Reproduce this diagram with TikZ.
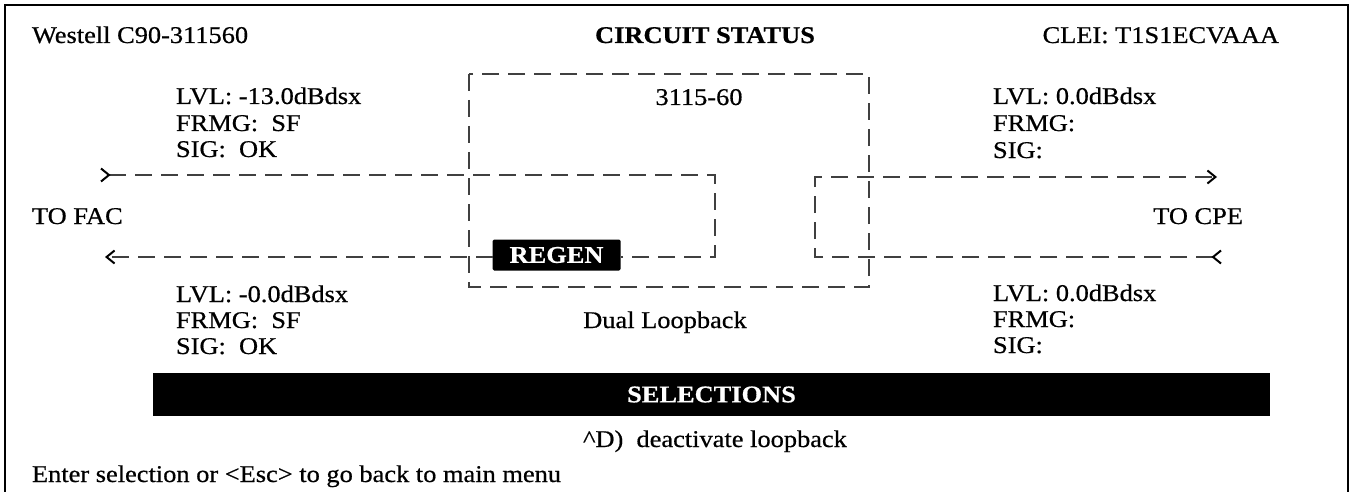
\documentclass[tikz,border=0pt]{standalone}
\usepackage{fontspec}
\setmainfont{Liberation Serif}[FakeStretch=1.1,FakeBold=0.6]
\usetikzlibrary{arrows.meta}
\begin{document}
\begin{tikzpicture}[x=1pt,y=-1pt,
  every node/.style={inner sep=0pt,outer sep=0pt,font=\fontsize{24}{26}\selectfont},
  txt/.style={anchor=base west},
  ctxt/.style={anchor=base},
  rtxt/.style={anchor=base east},
  wire/.style={draw=black!75,line width=1.3pt,dash pattern=on 17pt off 9pt},
  blk/.style={fill=black,text=white,font=\fontsize{24}{26}\selectfont\bfseries},
  endtip/.style={-{Straight Barb[length=8pt,width=13pt,line width=2pt,color=black]}},
  starttip/.style={{Straight Barb[reversed,length=8pt,width=13pt,line width=2pt,color=black]}-},
  bothtip/.style={{Straight Barb[reversed,length=8pt,width=13pt,line width=2pt,color=black]}-{Straight Barb[length=8pt,width=13pt,line width=2pt,color=black]}}
]
\useasboundingbox (0,0) rectangle (1352,492);
% frame
\draw[line width=1.6pt] (5,500) -- (5,5) -- (1348,5) -- (1348,500);
% header
\node[txt] (hdrL) at (32,43) {Westell C90-311560};
\node[ctxt,font=\fontsize{24}{26}\selectfont\bfseries] (hdrC) at (705,43) {CIRCUIT STATUS};
\node[rtxt] (hdrR) at (1279,43) {CLEI: T1S1ECVAAA};
% left upper labels
\node[txt] (l1) at (176,104) {LVL: -13.0dBdsx};
\node[txt] (l2) at (176,131) {FRMG:\ \ SF};
\node[txt] (l3) at (176,157) {SIG:\ \ OK};
% right upper labels
\node[txt] (r1) at (993,104) {LVL: 0.0dBdsx};
\node[txt] (r2) at (993,131) {FRMG:};
\node[txt] (r3) at (993,158) {SIG:};
% side labels
\node[txt] (fac) at (32,224) {TO FAC};
\node[rtxt] (cpe) at (1243,224) {TO CPE};
% left lower labels
\node[txt] (l4) at (176,302) {LVL: -0.0dBdsx};
\node[txt] (l5) at (176,328) {FRMG:\ \ SF};
\node[txt] (l6) at (176,354) {SIG:\ \ OK};
% right lower labels
\node[txt] (r4) at (993,301) {LVL: 0.0dBdsx};
\node[txt] (r5) at (993,327) {FRMG:};
\node[txt] (r6) at (993,353) {SIG:};
% unit box
\draw[wire] (469,74) rectangle (869,287);
\node[ctxt] (unit) at (699,105) {3115-60};
\node[ctxt] (dual) at (665,328) {Dual Loopback};
% regen
\node[blk,rounded corners=1.5pt,minimum width=128pt,minimum height=31pt] (regen) at (556.5,255) {REGEN};
% connector ends
\coordinate (facIn) at (100,175);
\coordinate (facOut) at (105,257);
\coordinate (loopL1) at (715,175);
\coordinate (loopL2) at (715,257);
\coordinate (cpeIn) at (1222,257);
\coordinate (loopR1) at (815,257);
\coordinate (loopR2) at (815,177);
\coordinate (cpeOut) at (1217,177);
\draw[wire,starttip] (facIn) -- (loopL1) -- (loopL2) -- (regen.east |- loopL2);
\draw[wire,endtip] (regen.west |- facOut) -- (facOut);
\draw[wire,bothtip] (cpeIn) -- (loopR1) -- (loopR2) -- (cpeOut);
% selections
\node[blk,minimum width=1117pt,minimum height=43pt] (sel) at (711.5,394.5) {SELECTIONS};
\node[ctxt] (opt) at (715,447) {\textasciicircum D)\ \ deactivate loopback};
\node[txt] (prompt) at (32,482) {Enter selection or <Esc> to go back to main menu};
\end{tikzpicture}
\end{document}
